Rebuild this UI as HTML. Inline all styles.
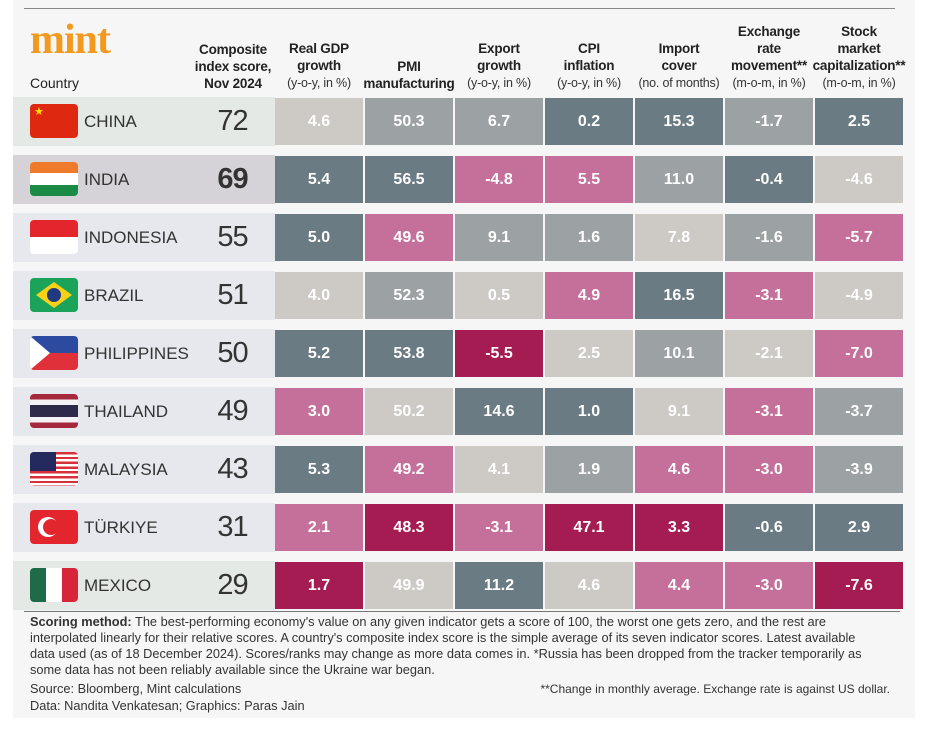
<!DOCTYPE html>
<html><head><meta charset="utf-8">
<style>
body{margin:0;background:#fff;width:927px;height:747px;position:relative;overflow:hidden;font-family:"Liberation Sans",sans-serif;}
#panel{position:absolute;left:13px;top:0;width:902px;height:718px;background:#f6f6f6;}
.abs{position:absolute;}
.hdr{position:absolute;text-align:center;font-size:13.5px;line-height:17px;color:#222;letter-spacing:-0.2px;}
.hdr span{font-size:12.5px;color:#333;}
.row{position:absolute;left:13px;width:262px;height:49px;}
.cname{position:absolute;left:84px;font-size:17px;color:#333;line-height:49px;}
.score{position:absolute;left:190px;width:85px;text-align:center;font-size:29px;color:#333;line-height:49px;letter-spacing:-1px;}
.cell{position:absolute;height:47px;line-height:47px;text-align:center;color:#fff;font-weight:bold;font-size:16px;}
.flag{position:absolute;left:30px;width:48px;height:34px;border-radius:4px;overflow:hidden;}
.foot{position:absolute;left:30px;width:880px;font-size:12.8px;color:#333;line-height:16px;white-space:nowrap;}
</style></head>
<body>
<div id="panel"></div>
<div class="abs" style="left:24px;top:8px;width:871px;height:1px;background:#888"></div>
<div class="abs" style="left:30px;top:16px;font-family:'Liberation Serif',serif;font-weight:bold;font-size:42px;color:#f29a1f;letter-spacing:-1px">mint</div>
<div class="abs" style="left:30px;top:75px;font-size:14px;color:#222">Country</div>
<div id="hdrs"></div>
<div id="rows"></div>
<div class="abs" style="left:24px;top:611px;width:876px;height:1px;background:#777"></div>
<div class="foot" style="top:614px"><b>Scoring method:</b> The best-performing economy's value on any given indicator gets a score of 100, the worst one gets zero, and the rest are<br>interpolated linearly for their relative scores. A country's composite index score is the simple average of its seven indicator scores. Latest available<br>data used (as of 18 December 2024). Scores/ranks may change as more data comes in. *Russia has been dropped from the tracker temporarily as<br>some data has not been reliably available since the Ukraine war began.</div>
<div class="foot" style="top:681px">Source: Bloomberg, Mint calculations</div>
<div class="foot" style="top:681px;text-align:right;width:860px;font-size:12px">**Change in monthly average. Exchange rate is against US dollar.</div>
<div class="foot" style="top:698px">Data: Nandita Venkatesan; Graphics: Paras Jain</div>
<script>
const countries=["CHINA","INDIA","INDONESIA","BRAZIL","PHILIPPINES","THAILAND","MALAYSIA","TÜRKIYE","MEXICO"];
const scores=[72,69,55,51,50,49,43,31,29];
const headers=[["Composite","index score,","Nov 2024",""],["Real GDP","growth","","(y-o-y, in %)"],["PMI","manufacturing","",""],["Export","growth","","(y-o-y, in %)"],["CPI","inflation","","(y-o-y, in %)"],["Import","cover","","(no. of months)"],["Exchange","rate","movement**","(m-o-m, in %)"],["Stock","market","capitalization**","(m-o-m, in %)"]];
const values=[
["4.6","50.3","6.7","0.2","15.3","-1.7","2.5"],
["5.4","56.5","-4.8","5.5","11.0","-0.4","-4.6"],
["5.0","49.6","9.1","1.6","7.8","-1.6","-5.7"],
["4.0","52.3","0.5","4.9","16.5","-3.1","-4.9"],
["5.2","53.8","-5.5","2.5","10.1","-2.1","-7.0"],
["3.0","50.2","14.6","1.0","9.1","-3.1","-3.7"],
["5.3","49.2","4.1","1.9","4.6","-3.0","-3.9"],
["2.1","48.3","-3.1","47.1","3.3","-0.6","2.9"],
["1.7","49.9","11.2","4.6","4.4","-3.0","-7.6"]];
const tiers=[
"LMMDDMD","DDPPMDL","DPMMLMP","LMLPDPL","DDCLMLP","PLDDLPM","DPLMPPM","PCPCCDD","CLDLPPC"];
const tierColor={D:"#6a7b84",M:"#9ca1a4",L:"#cdcac5",P:"#c4709b",C:"#a51c52"};
const rowBg=["#e5e9e5","#d5d3d7","#e6e8ed","#e6e8ed","#e6e8ed","#e6e8ed","#e6e8ed","#e6e8ed","#e5e9e5"];
const flags=[
"background:#de2910",
"background:linear-gradient(#ef7a2a 0 33%,#fff 33% 67%,#1a8a45 67%)",
"background:linear-gradient(#e3262e 0 50%,#fff 50%)",
"background:#1ca35a",
"background:linear-gradient(#2b4aa0 0 50%,#e0303a 50%)",
"background:linear-gradient(#a5283d 0 16%,#f4f2f4 16% 33%,#2d2a4a 33% 67%,#f4f2f4 67% 84%,#a5283d 84%)",
"background:repeating-linear-gradient(#d8303a 0 2.4px,#fff 2.4px 4.8px)",
"background:#e3262e",
"background:linear-gradient(90deg,#1e6b4a 0 33%,#fff 33% 67%,#d7263a 67%)"];
const rowTop=r=>97+r*58;
const colX=c=>275+c*90;
const H=document.getElementById('hdrs');
headers.forEach((h,i)=>{
 const d=document.createElement('div');
 d.className='hdr';
 
 
 const x=i===0?188:colX(i-1)-4;
 d.style.left=x+'px';d.style.width=(i===0?90:96)+'px';
 d.style.bottom=(747-92)+'px';
 let html='';
 h.forEach((l,k)=>{if(!l)return;html+=(k<3?'<b>'+l+'</b>':'<span>'+l+'</span>')+'<br>';});
 d.innerHTML=html.replace(/<br>$/,'');
 H.appendChild(d);
});
const R=document.getElementById('rows');
countries.forEach((c,r)=>{
 const row=document.createElement('div');
 row.className='row';
 
 
 row.style.top=rowTop(r)+'px';row.style.background=rowBg[r];
 R.appendChild(row);
 const f=document.createElement('div');
 f.className='flag';
 
 
 f.style.cssText=flags[r];f.style.top=(rowTop(r)+7)+'px';
 if(r===0)f.innerHTML='<span style="position:absolute;left:4px;top:1px;color:#ffde00;font-size:11px">★</span>';
 if(r===3)f.innerHTML='<div style="position:absolute;left:6px;top:4px;width:36px;height:26px;background:#f7d117;clip-path:polygon(50% 0,100% 50%,50% 100%,0 50%)"></div><div style="position:absolute;left:17px;top:10px;width:14px;height:14px;border-radius:50%;background:#1f3a80"></div>';
 if(r===4)f.innerHTML='<div style="position:absolute;left:0;top:0;width:20px;height:34px;background:#fff;clip-path:polygon(0 0,100% 50%,0 100%)"></div>';
 if(r===6)f.innerHTML='<div style="position:absolute;left:0;top:0;width:26px;height:19px;background:#252a5e"></div>';
 if(r===7)f.innerHTML='<div style="position:absolute;left:8px;top:7px;width:20px;height:20px;border-radius:50%;background:#fff"></div><div style="position:absolute;left:13px;top:9px;width:16px;height:16px;border-radius:50%;background:#e3262e"></div>';
 R.appendChild(f);
 const n=document.createElement('div');
 n.className='cname';
 
 
 n.style.top=rowTop(r)+'px';n.textContent=c;R.appendChild(n);
 const s=document.createElement('div');
 s.className='score';
 
 
 s.style.top=rowTop(r)+'px';s.textContent=scores[r];
 if(r===1)s.style.fontWeight='bold';
 R.appendChild(s);
 values[r].forEach((v,k)=>{
  const e=document.createElement('div');
  e.className='cell';
  
  
  e.style.left=colX(k)+'px';e.style.top=(rowTop(r)+1)+'px';
  e.style.width='88px';
  e.style.background=tierColor[tiers[r][k]];
  e.textContent=v;R.appendChild(e);
 });
});
</script>
</body></html>
